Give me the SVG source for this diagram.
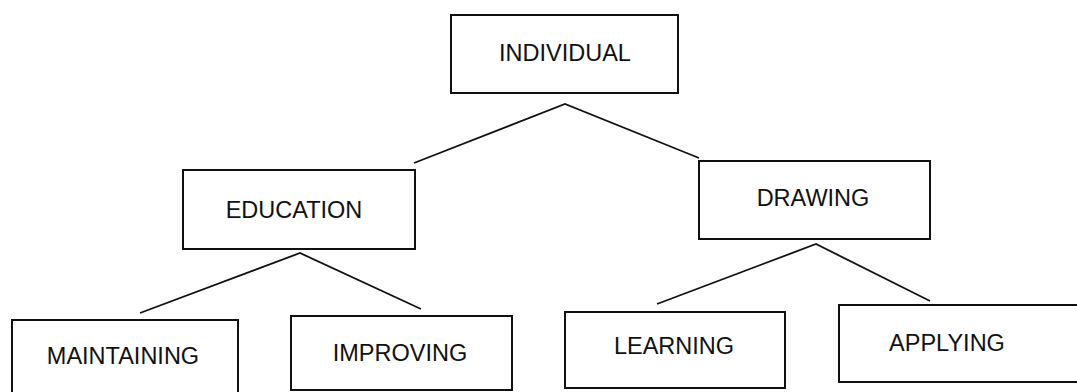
<svg xmlns="http://www.w3.org/2000/svg" width="1077" height="392" viewBox="0 0 1077 392">
  <style>
    .box { fill: #ffffff; stroke: #111111; stroke-width: 2; }
    .lbl { font-family: "Liberation Sans", Arial, sans-serif; font-size: 23.5px; fill: #111111; text-anchor: middle; }
    .link { fill: none; stroke: #111111; stroke-width: 1.8; stroke-linejoin: miter; }
  </style>
  <rect width="1077" height="392" fill="#ffffff"/>

  <!-- tree connectors -->
  <g id="connectors">
    <polyline class="link" points="414,163 565,104 699,158"/>
    <polyline class="link" points="140,313 300,253 421,309"/>
    <polyline class="link" points="657,304 816,244 930,301"/>
  </g>

  <g id="individual">
    <rect class="box" x="451" y="15" width="227" height="78"/>
    <text class="lbl" x="565" y="61">INDIVIDUAL</text>
  </g>

  <g id="education">
    <rect class="box" x="183" y="170" width="232" height="79"/>
    <text class="lbl" x="294" y="218">EDUCATION</text>
  </g>

  <g id="drawing">
    <rect class="box" x="699" y="161" width="231" height="78"/>
    <text class="lbl" x="813" y="206">DRAWING</text>
  </g>

  <g id="maintaining">
    <rect class="box" x="12" y="320" width="226" height="90"/>
    <text class="lbl" x="123" y="364">MAINTAINING</text>
  </g>

  <g id="improving">
    <rect class="box" x="291" y="316" width="221" height="74"/>
    <text class="lbl" x="400" y="361">IMPROVING</text>
  </g>

  <g id="learning">
    <rect class="box" x="565" y="312" width="220" height="76"/>
    <text class="lbl" x="674" y="354">LEARNING</text>
  </g>

  <g id="applying">
    <rect class="box" x="839" y="305" width="250" height="77"/>
    <text class="lbl" x="947" y="351">APPLYING</text>
  </g>
</svg>
